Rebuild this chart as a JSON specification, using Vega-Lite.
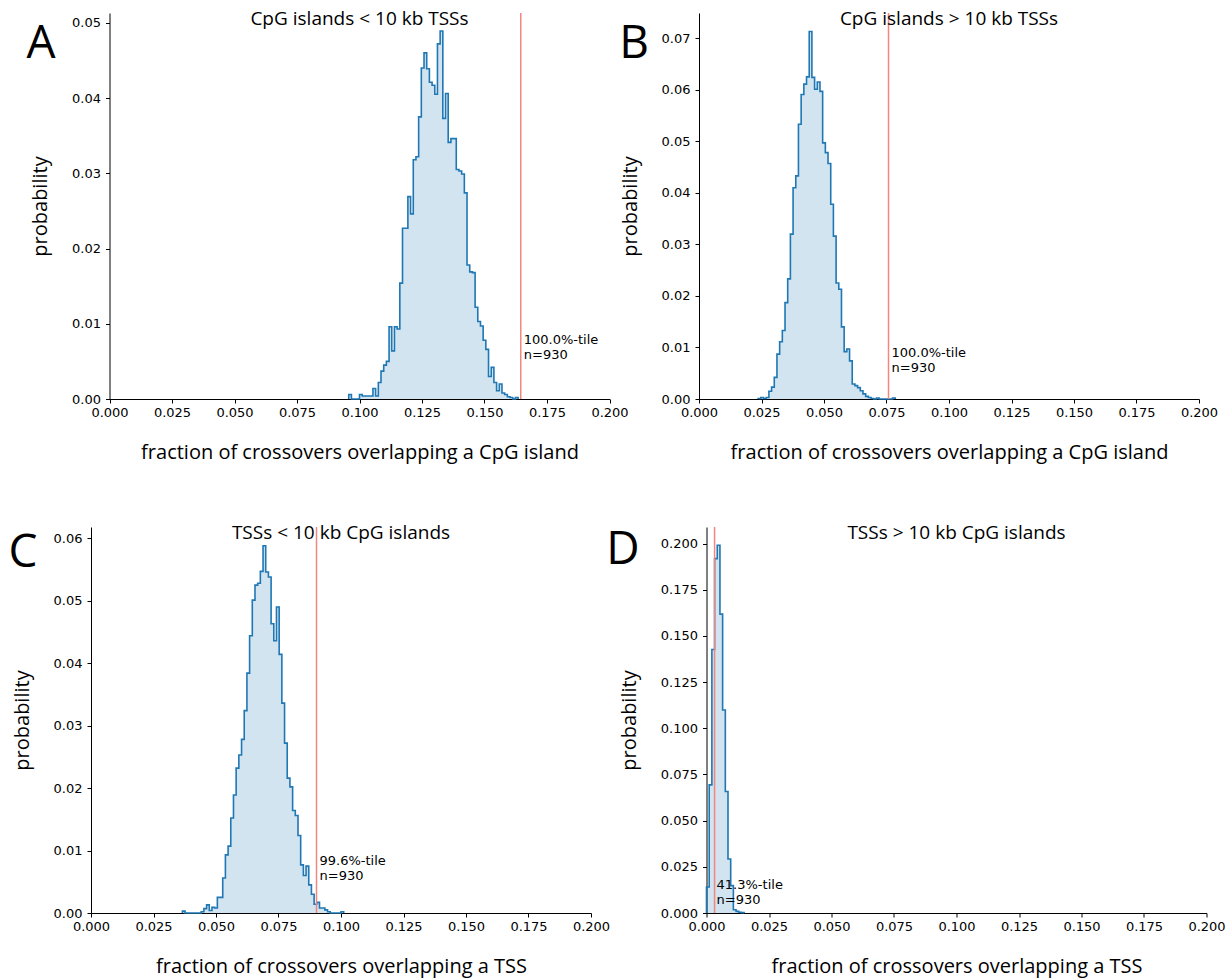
{
  "$schema": "https://vega.github.io/schema/vega-lite/v6.json",
  "background": "white",
  "padding": {"left": 8, "top": 10, "right": 2, "bottom": 6},
  "config": {
    "view": {"stroke": null},
    "axis": {
      "grid": false,
      "domainColor": "#000",
      "domainWidth": 1,
      "tickColor": "#000",
      "tickWidth": 1,
      "tickSize": 4,
      "labelFont": "DejaVu Sans",
      "labelFontSize": 13,
      "labelColor": "#000",
      "labelPadding": 3,
      "labelFlush": false,
      "labelOverlap": false,
      "titleFont": "Open Sans",
      "titleFontSize": 20,
      "titleFontWeight": "normal",
      "titleColor": "#000"
    },
    "axisX": {"titlePadding": 23},
    "axisY": {"titlePadding": 21, "labelPadding": 5},
    "title": {"font": "Open Sans", "fontSize": 19, "fontWeight": "normal", "color": "#000", "frame": "group", "baseline": "alphabetic", "offset": -17}
  },
  "datasets": {
    "simA": [
      {"x":0.0957,"p":0},{"x":0.0957,"p":0.0006},{"x":0.09677,"p":0},{"x":0.09785,"p":0},{"x":0.09892,"p":0},
      {"x":0.1,"p":0.0006},{"x":0.10108,"p":0.0004},{"x":0.10215,"p":0.0004},{"x":0.10323,"p":0.0004},{"x":0.1043,"p":0.0004},
      {"x":0.10538,"p":0.0014},{"x":0.10645,"p":0.0004},{"x":0.10753,"p":0.0022},{"x":0.1086,"p":0.0037},{"x":0.10968,"p":0.0045},
      {"x":0.11075,"p":0.005},{"x":0.11183,"p":0.0096},{"x":0.1129,"p":0.0064},{"x":0.11398,"p":0.0096},{"x":0.11505,"p":0.0093},
      {"x":0.11613,"p":0.0154},{"x":0.1172,"p":0.0227},{"x":0.11828,"p":0.0227},{"x":0.11935,"p":0.0269},{"x":0.12043,"p":0.0246},
      {"x":0.12151,"p":0.0318},{"x":0.12258,"p":0.0322},{"x":0.12366,"p":0.0375},{"x":0.12473,"p":0.044},{"x":0.12581,"p":0.046},
      {"x":0.12688,"p":0.0439},{"x":0.12796,"p":0.0421},{"x":0.12903,"p":0.0417},{"x":0.13011,"p":0.0405},{"x":0.13118,"p":0.0472},
      {"x":0.13226,"p":0.0489},{"x":0.13333,"p":0.0373},{"x":0.13441,"p":0.0406},{"x":0.13548,"p":0.0341},{"x":0.13656,"p":0.0346},
      {"x":0.13763,"p":0.0346},{"x":0.13871,"p":0.0305},{"x":0.13978,"p":0.0303},{"x":0.14086,"p":0.0299},{"x":0.14194,"p":0.0274},
      {"x":0.14301,"p":0.0178},{"x":0.14409,"p":0.0169},{"x":0.14516,"p":0.0168},{"x":0.14624,"p":0.0122},{"x":0.14731,"p":0.0103},
      {"x":0.14839,"p":0.0097},{"x":0.14946,"p":0.0078},{"x":0.15054,"p":0.0066},{"x":0.15161,"p":0.003},{"x":0.15269,"p":0.0042},
      {"x":0.15376,"p":0.0022},{"x":0.15484,"p":0.0011},{"x":0.15591,"p":0.002},{"x":0.15699,"p":0.0008},{"x":0.15806,"p":0.0006},
      {"x":0.15914,"p":0.0003},{"x":0.16022,"p":0.0002},{"x":0.16129,"p":0},{"x":0.16237,"p":0.0002},{"x":0.16344,"p":0}
    ],
    "simB": [
      {"x":0.02366,"p":0},{"x":0.02366,"p":0.0001},{"x":0.02473,"p":0.0003},{"x":0.02581,"p":0.0001},{"x":0.02688,"p":0.0003},
      {"x":0.02796,"p":0.0015},{"x":0.02903,"p":0.0023},{"x":0.03011,"p":0.0042},{"x":0.03118,"p":0.0087},{"x":0.03226,"p":0.0111},
      {"x":0.03333,"p":0.0133},{"x":0.03441,"p":0.0187},{"x":0.03548,"p":0.0233},{"x":0.03656,"p":0.032},{"x":0.03763,"p":0.041},
      {"x":0.03871,"p":0.0433},{"x":0.03978,"p":0.0533},{"x":0.04086,"p":0.0591},{"x":0.04194,"p":0.0611},{"x":0.04301,"p":0.0625},
      {"x":0.04409,"p":0.0713},{"x":0.04516,"p":0.0624},{"x":0.04624,"p":0.0601},{"x":0.04731,"p":0.0615},{"x":0.04839,"p":0.0597},
      {"x":0.04946,"p":0.0497},{"x":0.05054,"p":0.0478},{"x":0.05161,"p":0.0457},{"x":0.05269,"p":0.0378},{"x":0.05376,"p":0.0316},
      {"x":0.05484,"p":0.0225},{"x":0.05591,"p":0.0213},{"x":0.05699,"p":0.014},{"x":0.05806,"p":0.0092},{"x":0.05914,"p":0.0097},
      {"x":0.06022,"p":0.0074},{"x":0.06129,"p":0.0029},{"x":0.06237,"p":0.0026},{"x":0.06344,"p":0.0022},{"x":0.06452,"p":0.0016},
      {"x":0.06559,"p":0.001},{"x":0.06667,"p":0.0005},{"x":0.06774,"p":0.0003},{"x":0.06882,"p":0.0001},{"x":0.06989,"p":0},
      {"x":0.07097,"p":0.0002},{"x":0.07204,"p":0},{"x":0.07312,"p":0},{"x":0.07419,"p":0},{"x":0.07527,"p":0},
      {"x":0.07634,"p":0},{"x":0.07742,"p":0.0002},{"x":0.07849,"p":0}
    ],
    "simC": [
      {"x":0.03656,"p":0},{"x":0.03656,"p":0.0003},{"x":0.03763,"p":0},{"x":0.03871,"p":0},{"x":0.03978,"p":0},
      {"x":0.04086,"p":0},{"x":0.04194,"p":0},{"x":0.04301,"p":0},{"x":0.04409,"p":0.0002},{"x":0.04516,"p":0.0007},
      {"x":0.04624,"p":0.0013},{"x":0.04731,"p":0.0004},{"x":0.04839,"p":0.0009},{"x":0.04946,"p":0.0008},{"x":0.05054,"p":0.0025},
      {"x":0.05161,"p":0.0025},{"x":0.05269,"p":0.0056},{"x":0.05376,"p":0.0093},{"x":0.05484,"p":0.0107},{"x":0.05591,"p":0.0152},
      {"x":0.05699,"p":0.0189},{"x":0.05806,"p":0.0232},{"x":0.05914,"p":0.0253},{"x":0.06022,"p":0.0278},{"x":0.06129,"p":0.0324},
      {"x":0.06237,"p":0.0384},{"x":0.06344,"p":0.0444},{"x":0.06452,"p":0.0501},{"x":0.06559,"p":0.0525},{"x":0.06667,"p":0.0528},
      {"x":0.06774,"p":0.0547},{"x":0.06882,"p":0.0588},{"x":0.06989,"p":0.0546},{"x":0.07097,"p":0.0538},{"x":0.07204,"p":0.0463},
      {"x":0.07312,"p":0.0436},{"x":0.07419,"p":0.049},{"x":0.07527,"p":0.0414},{"x":0.07634,"p":0.0336},{"x":0.07742,"p":0.0272},
      {"x":0.07849,"p":0.0216},{"x":0.07957,"p":0.0202},{"x":0.08065,"p":0.0164},{"x":0.08172,"p":0.0156},{"x":0.0828,"p":0.0124},
      {"x":0.08387,"p":0.0077},{"x":0.08495,"p":0.006},{"x":0.08602,"p":0.0075},{"x":0.0871,"p":0.0045},{"x":0.08817,"p":0.003},
      {"x":0.08925,"p":0.0014},{"x":0.09032,"p":0.0017},{"x":0.0914,"p":0.0008},{"x":0.09247,"p":0.0008},{"x":0.09355,"p":0.0005},
      {"x":0.09462,"p":0.0002},{"x":0.0957,"p":0},{"x":0.09677,"p":0},{"x":0.09785,"p":0},{"x":0.09892,"p":0},
      {"x":0.1,"p":0.0002},{"x":0.10108,"p":0}
    ],
    "simD": [
      {"x":0,"p":0},{"x":0,"p":0.0141},{"x":0.00108,"p":0.0694},{"x":0.00215,"p":0.1427},{"x":0.00323,"p":0.1919},
      {"x":0.0043,"p":0.1991},{"x":0.00538,"p":0.1618},{"x":0.00645,"p":0.1099},{"x":0.00753,"p":0.0658},{"x":0.0086,"p":0.0292},
      {"x":0.00968,"p":0.0148},{"x":0.01075,"p":0.0018},{"x":0.01183,"p":0.0009},{"x":0.0129,"p":0.0004},{"x":0.01398,"p":0.0002},
      {"x":0.01505,"p":0}
    ]
  },
  "spacing": 62,
  "vconcat": [
    {
      "spacing": 89,
      "bounds": "flush",
      "hconcat": [
        {
          "width": 518.5,
          "height": 386,
          "title": {"text": "CpG islands < 10 kb TSSs", "dx": 9.25},
          "layer": [
            {
              "data": {"name": "simA"},
              "mark": {"type": "area", "interpolate": "step-after", "color": "#1f77b4", "fillOpacity": 0.2},
              "encoding": {
                "x": {"field": "x", "type": "quantitative", "title": "fraction of crossovers overlapping a CpG island",
                      "scale": {"domain": [0, 0.2], "range": [18.5, 518.5], "nice": false},
                      "axis": {"values": [0, 0.025, 0.05, 0.075, 0.1, 0.125, 0.15, 0.175, 0.2], "format": ".3f"}},
                "y": {"field": "p", "type": "quantitative", "title": "probability",
                      "scale": {"domain": [0, 0.0513], "nice": false},
                      "axis": {"values": [0, 0.01, 0.02, 0.03, 0.04, 0.05], "format": ".2f", "offset": -18.5}}
              }
            },
            {
              "data": {"name": "simA"},
              "mark": {"type": "line", "interpolate": "step-after", "color": "#1f77b4", "strokeWidth": 1.6},
              "encoding": {
                "x": {"field": "x", "type": "quantitative", "title": "fraction of crossovers overlapping a CpG island"},
                "y": {"field": "p", "type": "quantitative", "title": "probability"},
                "order": {"value": null}
              }
            },
            {
              "data": {"values": [{}]},
              "mark": {"type": "rule", "color": "#f3877f", "strokeWidth": 1.5},
              "encoding": {"x": {"datum": 0.1645}}
            },
            {
              "data": {"values": [{}]},
              "mark": {"type": "text", "text": ["100.0%-tile", "n=930"], "align": "left", "baseline": "alphabetic", "dx": 3, "font": "DejaVu Sans", "fontSize": 13, "lineHeight": 15, "color": "#000"},
              "encoding": {"x": {"datum": 0.1645}, "y": {"datum": 0.0073}}
            },
            {
              "data": {"values": [{}]},
              "mark": {"type": "text", "text": "A", "align": "center", "baseline": "alphabetic", "font": "Open Sans", "fontSize": 46, "color": "#000"},
              "encoding": {"x": {"datum": -0.0274}, "y": {"datum": 0.0453}}
            }
          ]
        },
        {
          "width": 500,
          "height": 386,
          "title": {"text": "CpG islands > 10 kb TSSs"},
          "layer": [
            {
              "data": {"name": "simB"},
              "mark": {"type": "area", "interpolate": "step-after", "color": "#1f77b4", "fillOpacity": 0.2},
              "encoding": {
                "x": {"field": "x", "type": "quantitative", "title": "fraction of crossovers overlapping a CpG island",
                      "scale": {"domain": [0, 0.2], "nice": false},
                      "axis": {"values": [0, 0.025, 0.05, 0.075, 0.1, 0.125, 0.15, 0.175, 0.2], "format": ".3f"}},
                "y": {"field": "p", "type": "quantitative", "title": "probability",
                      "scale": {"domain": [0, 0.0749], "nice": false},
                      "axis": {"values": [0, 0.01, 0.02, 0.03, 0.04, 0.05, 0.06, 0.07], "format": ".2f"}}
              }
            },
            {
              "data": {"name": "simB"},
              "mark": {"type": "line", "interpolate": "step-after", "color": "#1f77b4", "strokeWidth": 1.6},
              "encoding": {
                "x": {"field": "x", "type": "quantitative", "title": "fraction of crossovers overlapping a CpG island"},
                "y": {"field": "p", "type": "quantitative", "title": "probability"},
                "order": {"value": null}
              }
            },
            {
              "data": {"values": [{}]},
              "mark": {"type": "rule", "color": "#f3877f", "strokeWidth": 1.5},
              "encoding": {"x": {"datum": 0.0758}}
            },
            {
              "data": {"values": [{}]},
              "mark": {"type": "text", "text": ["100.0%-tile", "n=930"], "align": "left", "baseline": "alphabetic", "dx": 3, "font": "DejaVu Sans", "fontSize": 13, "lineHeight": 15, "color": "#000"},
              "encoding": {"x": {"datum": 0.0758}, "y": {"datum": 0.0081}}
            },
            {
              "data": {"values": [{}]},
              "mark": {"type": "text", "text": "B", "align": "center", "baseline": "alphabetic", "font": "Open Sans", "fontSize": 46, "color": "#000"},
              "encoding": {"x": {"datum": -0.026}, "y": {"datum": 0.0661}}
            }
          ]
        }
      ]
    },
    {
      "spacing": 115.5,
      "bounds": "flush",
      "hconcat": [
        {
          "width": 500,
          "height": 386,
          "title": {"text": "TSSs < 10 kb CpG islands"},
          "layer": [
            {
              "data": {"name": "simC"},
              "mark": {"type": "area", "interpolate": "step-after", "color": "#1f77b4", "fillOpacity": 0.2},
              "encoding": {
                "x": {"field": "x", "type": "quantitative", "title": "fraction of crossovers overlapping a TSS",
                      "scale": {"domain": [0, 0.2], "nice": false},
                      "axis": {"values": [0, 0.025, 0.05, 0.075, 0.1, 0.125, 0.15, 0.175, 0.2], "format": ".3f"}},
                "y": {"field": "p", "type": "quantitative", "title": "probability",
                      "scale": {"domain": [0, 0.0618], "nice": false},
                      "axis": {"values": [0, 0.01, 0.02, 0.03, 0.04, 0.05, 0.06], "format": ".2f"}}
              }
            },
            {
              "data": {"name": "simC"},
              "mark": {"type": "line", "interpolate": "step-after", "color": "#1f77b4", "strokeWidth": 1.6},
              "encoding": {
                "x": {"field": "x", "type": "quantitative", "title": "fraction of crossovers overlapping a TSS"},
                "y": {"field": "p", "type": "quantitative", "title": "probability"},
                "order": {"value": null}
              }
            },
            {
              "data": {"values": [{}]},
              "mark": {"type": "rule", "color": "#f3877f", "strokeWidth": 1.5},
              "encoding": {"x": {"datum": 0.0902}}
            },
            {
              "data": {"values": [{}]},
              "mark": {"type": "text", "text": ["99.6%-tile", "n=930"], "align": "left", "baseline": "alphabetic", "dx": 3, "font": "DejaVu Sans", "fontSize": 13, "lineHeight": 15, "color": "#000"},
              "encoding": {"x": {"datum": 0.0902}, "y": {"datum": 0.0077}}
            },
            {
              "data": {"values": [{}]},
              "mark": {"type": "text", "text": "C", "align": "center", "baseline": "alphabetic", "font": "Open Sans", "fontSize": 46, "color": "#000"},
              "encoding": {"x": {"datum": -0.0272}, "y": {"datum": 0.0554}}
            }
          ]
        },
        {
          "width": 500,
          "height": 386,
          "title": {"text": "TSSs > 10 kb CpG islands"},
          "layer": [
            {
              "data": {"name": "simD"},
              "mark": {"type": "area", "interpolate": "step-after", "color": "#1f77b4", "fillOpacity": 0.2},
              "encoding": {
                "x": {"field": "x", "type": "quantitative", "title": "fraction of crossovers overlapping a TSS",
                      "scale": {"domain": [0, 0.2], "nice": false},
                      "axis": {"values": [0, 0.025, 0.05, 0.075, 0.1, 0.125, 0.15, 0.175, 0.2], "format": ".3f"}},
                "y": {"field": "p", "type": "quantitative", "title": "probability",
                      "scale": {"domain": [0, 0.209], "nice": false},
                      "axis": {"values": [0, 0.025, 0.05, 0.075, 0.1, 0.125, 0.15, 0.175, 0.2], "format": ".3f"}}
              }
            },
            {
              "data": {"name": "simD"},
              "mark": {"type": "line", "interpolate": "step-after", "color": "#1f77b4", "strokeWidth": 1.6},
              "encoding": {
                "x": {"field": "x", "type": "quantitative", "title": "fraction of crossovers overlapping a TSS"},
                "y": {"field": "p", "type": "quantitative", "title": "probability"},
                "order": {"value": null}
              }
            },
            {
              "data": {"values": [{}]},
              "mark": {"type": "rule", "color": "#f3877f", "strokeWidth": 1.5},
              "encoding": {"x": {"datum": 0.00323}}
            },
            {
              "data": {"values": [{}]},
              "mark": {"type": "text", "text": ["41.3%-tile", "n=930"], "align": "left", "baseline": "alphabetic", "dx": 2, "font": "DejaVu Sans", "fontSize": 13, "lineHeight": 15, "color": "#000"},
              "encoding": {"x": {"datum": 0.00323}, "y": {"datum": 0.0131}}
            },
            {
              "data": {"values": [{}]},
              "mark": {"type": "text", "text": "D", "align": "center", "baseline": "alphabetic", "font": "Open Sans", "fontSize": 46, "color": "#000"},
              "encoding": {"x": {"datum": -0.0334}, "y": {"datum": 0.1891}}
            }
          ]
        }
      ]
    }
  ]
}
